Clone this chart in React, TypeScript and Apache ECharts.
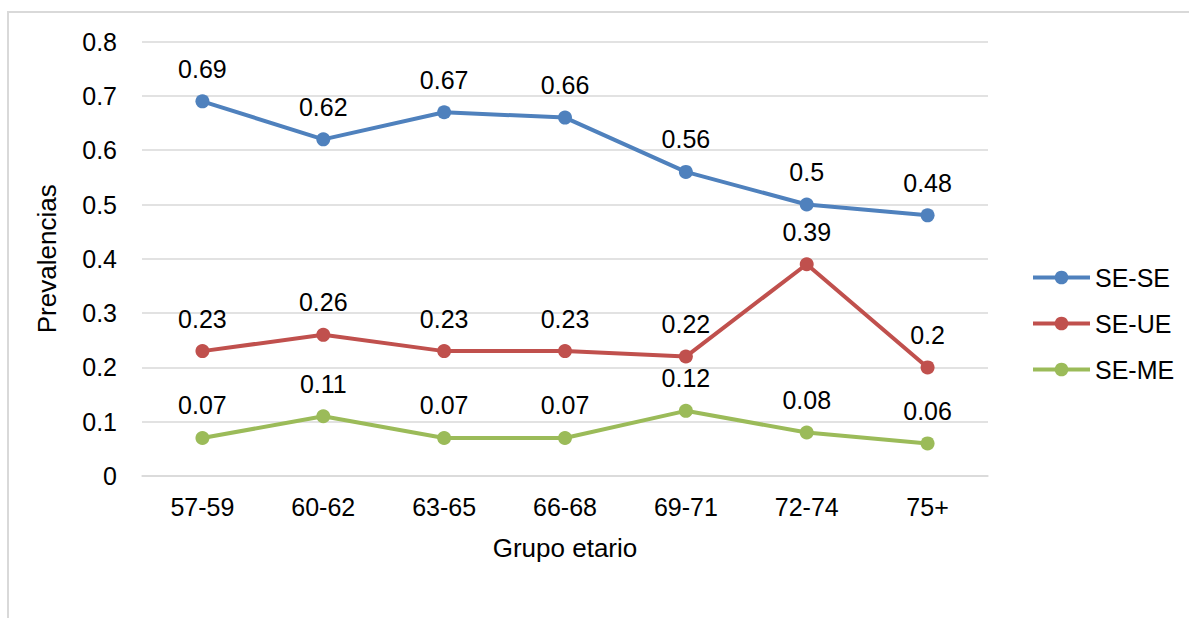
import React, { useEffect, useRef } from "react";
import * as echarts from "echarts";

const categories = ["57-59", "60-62", "63-65", "66-68", "69-71", "72-74", "75+"];
const seSe = [0.69, 0.62, 0.67, 0.66, 0.56, 0.5, 0.48];
const seUe = [0.23, 0.26, 0.23, 0.23, 0.22, 0.39, 0.2];
const seMe = [0.07, 0.11, 0.07, 0.07, 0.12, 0.08, 0.06];

const FONT = "'Liberation Sans', Arial, sans-serif";

function lineSeries(name: string, data: number[], color: string) {
  return {
    name,
    type: "line",
    data,
    symbol: "circle",
    symbolSize: 14,
    itemStyle: { color },
    lineStyle: { color, width: 4 },
    label: {
      show: true,
      position: "top",
      distance: 13,
      color: "#000",
      fontSize: 25,
      fontFamily: FONT,
    },
  };
}

export default function App() {
  const ref = useRef<HTMLDivElement>(null);

  useEffect(() => {
    if (!ref.current) return;
    const chart = echarts.init(ref.current, undefined, { renderer: "svg" });
    chart.setOption({
      animation: false,
      backgroundColor: "#fff",
      textStyle: { fontFamily: FONT },
      graphic: [
        {
          type: "polyline",
          shape: { points: [[8, 640], [8, 12], [1200, 12]] },
          style: { stroke: "#d9d9d9", lineWidth: 2, fill: "none" },
          silent: true,
        },
      ],
      grid: { left: 142, right: 201, top: 41.6, bottom: 142 },
      legend: {
        orient: "vertical",
        left: 1026,
        top: 260,
        itemWidth: 57,
        itemHeight: 17,
        itemGap: 21,
        lineStyle: { width: 4 },
        textStyle: { color: "#000", fontSize: 25, fontFamily: FONT },
        data: ["SE-SE", "SE-UE", "SE-ME"],
      },
      xAxis: {
        type: "category",
        data: categories,
        boundaryGap: true,
        name: "Grupo etario",
        nameLocation: "middle",
        nameGap: 59,
        nameTextStyle: { color: "#000", fontSize: 26, fontFamily: FONT, verticalAlign: "top" },
        axisLine: { show: true, lineStyle: { color: "#d9d9d9", width: 1.5 } },
        axisTick: { show: false },
        axisLabel: { color: "#000", fontSize: 25, fontFamily: FONT, margin: 18 },
      },
      yAxis: {
        type: "value",
        min: 0,
        max: 0.8,
        interval: 0.1,
        name: "Prevalencias",
        nameLocation: "middle",
        nameGap: 82,
        nameTextStyle: { color: "#000", fontSize: 26, fontFamily: FONT },
        axisLine: { show: false },
        axisTick: { show: false },
        axisLabel: { color: "#000", fontSize: 25, fontFamily: FONT, margin: 25 },
        splitLine: { lineStyle: { color: "#d9d9d9", width: 1.5 } },
      },
      series: [
        lineSeries("SE-SE", seSe, "#4F81BD"),
        lineSeries("SE-UE", seUe, "#C0504D"),
        lineSeries("SE-ME", seMe, "#9BBB59"),
      ],
    });
    return () => chart.dispose();
  }, []);

  return (
    <div
      ref={ref}
      style={{ position: "fixed", left: 0, top: 0, width: 1189, height: 618 }}
    />
  );
}
